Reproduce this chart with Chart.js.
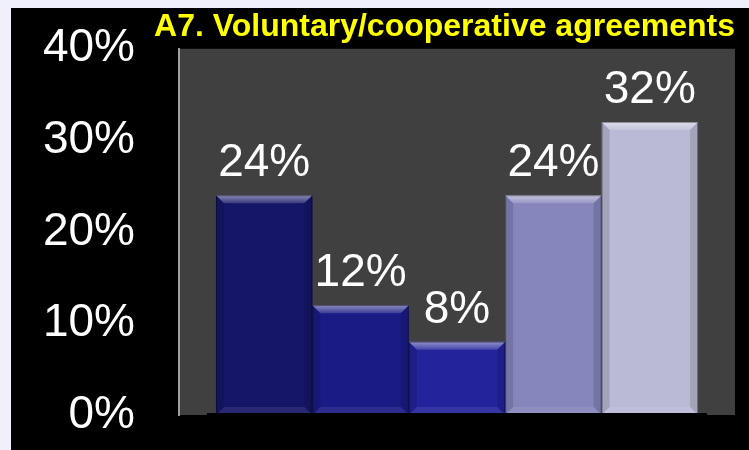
<!DOCTYPE html>
<html>
<head>
<meta charset="utf-8">
<script src="https://cdn.jsdelivr.net/npm/chart.js@4"></script>
<style>
  html, body { margin: 0; padding: 0; background: #f0f0fc; }
  #wrap { width: 749px; height: 450px; }
</style>
</head>
<body>
<div id="wrap"><canvas id="chart" width="749" height="450"></canvas></div>
<script>
// values
const titleText = 'A7. Voluntary/cooperative agreements';
const barNames = ['Bar 1', 'Bar 2', 'Bar 3', 'Bar 4', 'Bar 5'];
const barValues = [24, 12, 8, 24, 32];
const barColors = ['#161668', '#1b1b86', '#23239c', '#8686bc', '#babad6'];
const yTicks = [0, 10, 20, 30, 40];

// page background, black panel and grey plot area
const panelPlugin = {
    id: 'panel',
    beforeDraw(chart) {
        const { ctx, chartArea: a } = chart;
        ctx.save();
        ctx.fillStyle = '#f0f0fc';
        ctx.fillRect(0, 0, chart.width, chart.height);
        ctx.fillStyle = '#000000';
        ctx.fillRect(11, 8, chart.width - 11, chart.height - 8);
        ctx.fillStyle = '#404040';
        ctx.fillRect(a.left, a.top, a.right - a.left, a.bottom - a.top);
        ctx.restore();
    }
};

// bevelled look on each bar plus the value label above it
const bevelPlugin = {
    id: 'bevel',
    afterDatasetsDraw(chart) {
        const ctx = chart.ctx;
        chart.data.datasets.forEach((ds, i) => {
            chart.getDatasetMeta(i).data.forEach(bar => {
                const l = bar.x - bar.width / 2;
                const r = bar.x + bar.width / 2;
                const t = bar.y;
                const b = bar.base;
                const d = 8;
                ctx.save();
                // top bevel
                const g = ctx.createLinearGradient(0, t, 0, t + d);
                g.addColorStop(0, 'rgba(255,255,255,0.5)');
                g.addColorStop(1, 'rgba(255,255,255,0.15)');
                ctx.fillStyle = g;
                ctx.beginPath();
                ctx.moveTo(l, t); ctx.lineTo(r, t);
                ctx.lineTo(r - d, t + d); ctx.lineTo(l + d, t + d);
                ctx.closePath(); ctx.fill();
                // side bevels
                ctx.fillStyle = 'rgba(0,0,0,0.12)';
                ctx.beginPath();
                ctx.moveTo(l, t); ctx.lineTo(l + d, t + d);
                ctx.lineTo(l + d, b - d); ctx.lineTo(l, b);
                ctx.closePath(); ctx.fill();
                ctx.beginPath();
                ctx.moveTo(r, t); ctx.lineTo(r - d, t + d);
                ctx.lineTo(r - d, b - d); ctx.lineTo(r, b);
                ctx.closePath(); ctx.fill();
                // bottom bevel
                ctx.fillStyle = 'rgba(255,255,255,0.08)';
                ctx.beginPath();
                ctx.moveTo(l, b); ctx.lineTo(r, b);
                ctx.lineTo(r - d, b - d); ctx.lineTo(l + d, b - d);
                ctx.closePath(); ctx.fill();
                // outline
                ctx.strokeStyle = 'rgba(0,0,0,0.35)';
                ctx.lineWidth = 1;
                ctx.strokeRect(l + 0.5, t + 0.5, r - l - 1, b - t - 1);
                // value label
                ctx.fillStyle = '#ffffff';
                ctx.font = '46px "Liberation Sans", Arial, sans-serif';
                ctx.textAlign = 'center';
                ctx.textBaseline = 'alphabetic';
                ctx.fillText(ds.data[0] + '%', bar.x, t - 19);
                ctx.restore();
            });
        });
        // floor line under the bars
        const a = chart.chartArea;
        ctx.save();
        ctx.fillStyle = '#000000';
        ctx.fillRect(a.left + 28, a.bottom - 2, a.right - a.left - 56, 3);
        ctx.restore();
    }
};

new Chart(document.getElementById('chart'), {
    type: 'bar',
    data: {
        labels: [''],
        datasets: barValues.map((v, i) => ({
            label: barNames[i],
            data: [v],
            backgroundColor: barColors[i],
            borderWidth: 0
        }))
    },
    options: {
        responsive: false,
        animation: false,
        layout: { padding: { left: 0, right: 14, top: 0, bottom: 35 } },
        datasets: { bar: { categoryPercentage: 0.867, barPercentage: 1 } },
        plugins: {
            legend: { display: false },
            tooltip: { enabled: false },
            title: {
                display: true,
                text: titleText,
                align: 'end',
                color: '#ffff00',
                font: { family: '"Liberation Sans", Arial, sans-serif', size: 32, weight: 'bold', lineHeight: 1.15 },
                padding: { top: 9, bottom: 3 }
            }
        },
        scales: {
            x: { display: false },
            y: {
                min: 0,
                max: 40,
                afterBuildTicks: scale => { scale.ticks = yTicks.map(v => ({ value: v })); },
                afterFit: scale => {
                    scale.width = 179;
                    scale.paddingTop = 0;
                    scale.paddingBottom = 0;
                },
                grid: { display: false, drawTicks: false },
                border: { display: true, color: '#a0a0a0', width: 2 },
                ticks: {
                    color: '#ffffff',
                    padding: 44,
                    font: { family: '"Liberation Sans", Arial, sans-serif', size: 46 },
                    callback: v => v + '%'
                }
            }
        }
    },
    plugins: [panelPlugin, bevelPlugin]
});
</script>
</body>
</html>
